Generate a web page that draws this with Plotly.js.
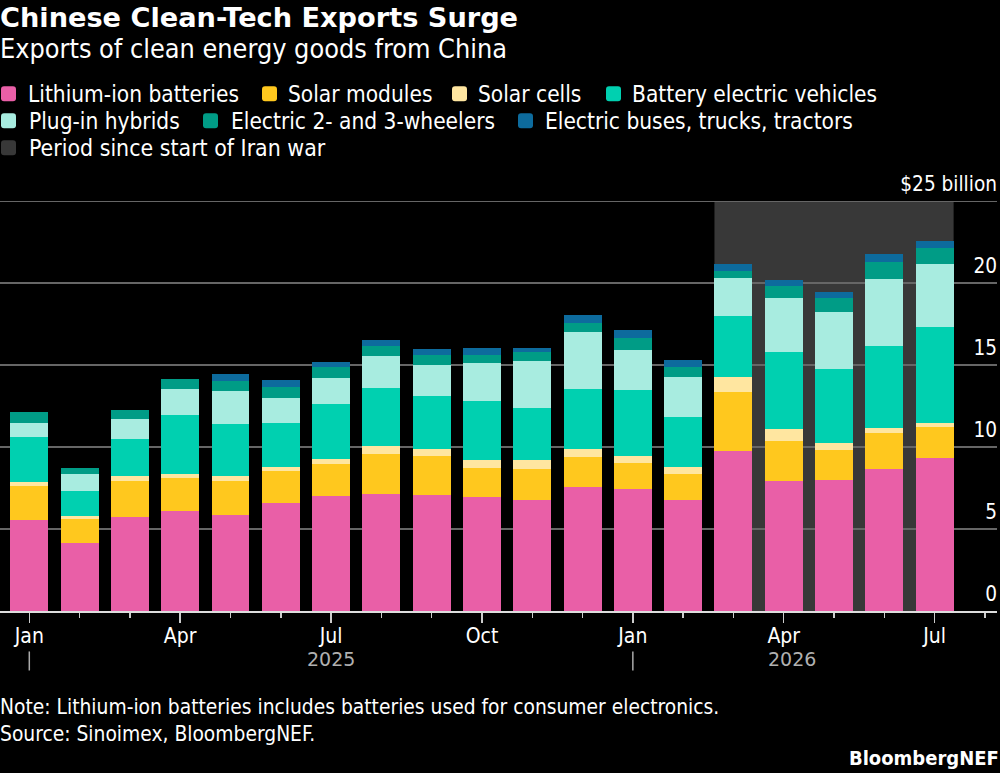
<!DOCTYPE html>
<html>
<head>
<meta charset="utf-8">
<script src="https://cdn.plot.ly/plotly-3.0.1.min.js"></script>
<style>html,body{margin:0;padding:0;background:#000;}</style>
</head>
<body>
<div id="chart" style="width:1000px;height:773px"></div>
<script>
// ---- data ($ billion) ----
const months = ["Jan 25","Feb 25","Mar 25","Apr 25","May 25","Jun 25","Jul 25","Aug 25","Sep 25","Oct 25","Nov 25","Dec 25","Jan 26","Feb 26","Mar 26","Apr 26","May 26","Jun 26","Jul 26"];
const batteries = [5.58,4.13,5.76,6.13,5.84,6.60,7.02,7.15,7.08,6.94,6.80,7.57,7.43,6.76,9.76,7.96,8.00,8.67,9.35];
const modules   = [2.04,1.47,2.18,1.97,2.10,1.94,1.96,2.44,2.37,1.80,1.87,1.83,1.59,1.63,3.61,2.44,1.82,2.18,1.88];
const cells     = [0.23,0.18,0.29,0.28,0.31,0.26,0.28,0.47,0.43,0.46,0.53,0.47,0.43,0.40,0.90,0.68,0.43,0.32,0.26];
const bev       = [2.79,1.55,2.26,3.56,3.16,2.69,3.37,3.56,3.22,3.61,3.16,3.67,4.03,3.04,3.70,4.70,4.54,4.98,5.84];
const phev      = [0.84,1.06,1.22,1.59,2.02,1.51,1.57,1.94,1.94,2.30,2.91,3.48,2.46,2.43,2.35,3.30,3.45,4.10,3.87];
const wheelers  = [0.69,0.34,0.57,0.61,0.63,0.69,0.69,0.61,0.58,0.51,0.53,0.53,0.72,0.65,0.45,0.77,0.87,1.06,0.92];
const heavy     = [0,0,0,0,0.39,0.39,0.31,0.39,0.39,0.41,0.26,0.49,0.47,0.41,0.39,0.35,0.37,0.45,0.47];
const seriesNames = ["Lithium-ion batteries","Solar modules","Solar cells","Battery electric vehicles","Plug-in hybrids","Electric 2- and 3-wheelers","Electric buses, trucks, tractors"];
const xTickVals = [0,3,6,9,12,15,18];
const xTickText = ["Jan","Apr","Jul","Oct","Jan","Apr","Jul"];
const yTickVals = [0,5,10,15,20,25];
const yTickText = ["0","5","10","15","20","$25 billion"];
const warLabel = "Period since start of Iran war";

// ---- styling ----
const colors = ["#e95fa7","#ffc81e","#ffe6a0","#00d0b0","#a8ece0","#009c86","#0d6b9d"];
const shadeColor = "#383838";
const W=1000,H=773,ML=0,MR=3,MT=198.2,MB=162.4;
const plotW=W-ML-MR, plotH=H-MT-MB;
const px=x=>(x-ML)/plotW, py=y=>(MT+plotH-y)/plotH;
const FONT="DejaVu Sans Condensed";
const BOLD="DejaVu Sans";
const barWidth=0.755;
const idx=months.map((_,i)=>i);

const traces=[batteries,modules,cells,bev,phev,wheelers,heavy].map((v,i)=>({
  type:"bar",x:idx,y:v,name:seriesNames[i],width:barWidth,
  marker:{color:colors[i],line:{width:0}},hoverinfo:"name+y"
}));

function label(text,x,y,size,opts){
  opts=opts||{};
  return {text:text,xref:"paper",yref:"paper",x:px(x),y:py(y),xanchor:opts.anchor||"left",yanchor:"middle",
    showarrow:false,borderpad:0,borderwidth:0,
    font:{family:opts.family||FONT,size:size,color:opts.color||"#fff",weight:opts.weight||400}};
}
function swatch(x,yc,color){
  const s=15,r=3,t=yc-7.5,b=yc+7.5,l=x,e=x+s;
  const P=(a,c)=>px(a)+","+py(c);
  const path="M"+P(l+r,t)+" L"+P(e-r,t)+" Q"+P(e,t)+" "+P(e,t+r)+" L"+P(e,b-r)+" Q"+P(e,b)+" "+P(e-r,b)+" L"+P(l+r,b)+" Q"+P(l,b)+" "+P(l,b-r)+" L"+P(l,t+r)+" Q"+P(l,t)+" "+P(l+r,t)+" Z";
  return {type:"path",xref:"paper",yref:"paper",path:path,fillcolor:color,line:{width:0},layer:"above"};
}
const LEG=[[0,1,94,28],[1,262,94,288],[2,452,94,478],[3,606,94,632],[4,1,121,29],[5,203,121,231],[6,518,121,545]];
const LEG_SIZE=22.5;
const annotations=[
  label("Chinese Clean-Tech Exports Surge",0,18,27.2,{weight:700,family:BOLD}),
  label("Exports of clean energy goods from China",0,49,26.8),
  label("Note: Lithium-ion batteries includes batteries used for consumer electronics.",0,706,20.8),
  label("Source: Sinoimex, BloombergNEF.",0,733,20.8),
  label("BloombergNEF",999,757,20,{anchor:"right",weight:700}),
  label(warLabel,29,148,22.9)
];
LEG.forEach(l=>annotations.push(label(seriesNames[l[0]],l[3],l[2],LEG_SIZE)));
[["2025",6,0],["2026",15,8]].forEach(a=>annotations.push({text:a[0],xref:"x",yref:"paper",x:a[1],y:py(659),xshift:a[2],
  xanchor:"center",yanchor:"middle",showarrow:false,font:{family:BOLD,size:19,color:"#b0b0b0"}}));

const shapes=[
  {type:"rect",xref:"x",yref:"y",x0:14-barWidth/2,x1:18+barWidth/2,y0:0,y1:25,fillcolor:shadeColor,line:{width:0},layer:"below"},
  {type:"line",xref:"x",yref:"paper",x0:0,x1:0,y0:py(651),y1:py(670),line:{color:"#aaa",width:1.5}},
  {type:"line",xref:"x",yref:"paper",x0:12,x1:12,y0:py(651),y1:py(670),line:{color:"#aaa",width:1.5}}
];
LEG.forEach(l=>shapes.push(swatch(l[1],l[2],colors[l[0]])));
shapes.push(swatch(1,148,shadeColor));

const layout={
  width:W,height:H,margin:{l:ML,r:MR,t:MT,b:MB,pad:0},
  paper_bgcolor:"#000",plot_bgcolor:"#000",
  barmode:"stack",showlegend:false,
  font:{family:FONT,color:"#fff"},
  xaxis:{range:[-0.5825,19.24],tickmode:"array",tickvals:xTickVals,ticktext:xTickText,ticks:"outside",ticklen:10,tickwidth:1.5,tickcolor:"#ccc",
    minor:{dtick:1,tick0:0,ticks:"outside",ticklen:5,tickwidth:1.5,tickcolor:"#ccc",showgrid:false},
    showgrid:false,zeroline:false,showline:true,linecolor:"#ddd",linewidth:2,ticklabelstandoff:-5,
    tickfont:{family:FONT,size:21,color:"#fff"},fixedrange:true},
  yaxis:{range:[0,25.2],side:"right",tickmode:"array",tickvals:yTickVals,ticktext:yTickText,ticks:"",ticklabelposition:"inside",
    ticklabeloverflow:"allow",ticklabelshift:-17,ticklabelstandoff:-3,showgrid:true,gridcolor:"#666",gridwidth:1.5,zeroline:false,showline:false,
    tickfont:{family:FONT,size:20.6,color:"#fff"},fixedrange:true},
  annotations:annotations,shapes:shapes
};
Plotly.newPlot("chart",traces,layout,{displayModeBar:false,staticPlot:true});
</script>
</body>
</html>
